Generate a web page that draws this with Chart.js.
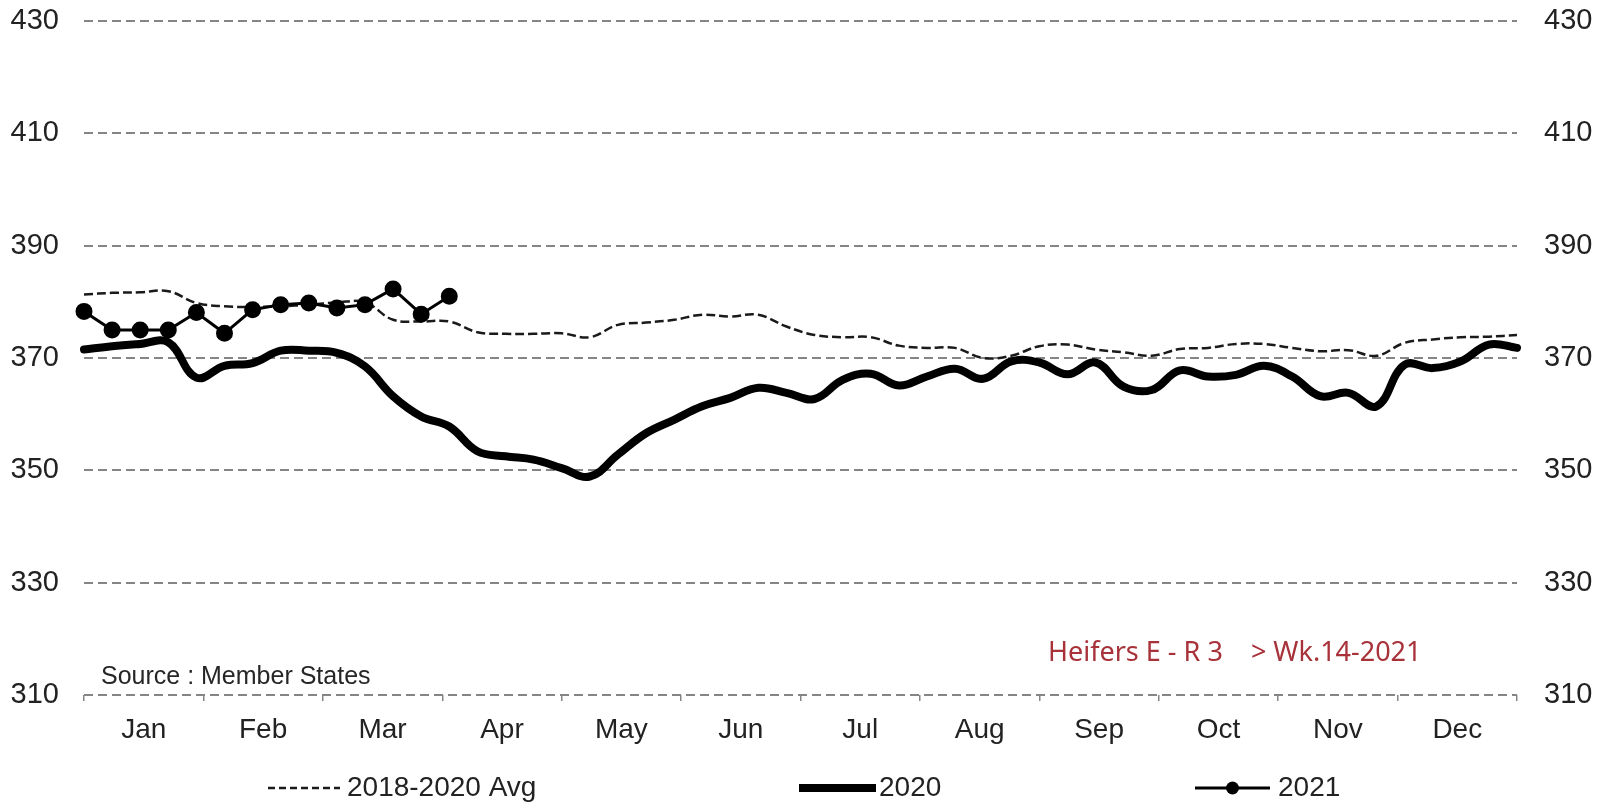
<!DOCTYPE html>
<html>
<head>
<meta charset="utf-8">
<script src="https://cdn.jsdelivr.net/npm/chart.js@4.4.1/dist/chart.umd.min.js"></script>
<style>
  html, body { margin: 0; padding: 0; background: #ffffff; }
  #wrap { width: 1606px; height: 807px; position: relative; }
</style>
</head>
<body>
<div id="wrap"><canvas id="c"></canvas></div>
<script>
// ---- data ----
const weeks = ['W1','W2','W3','W4','W5','W6','W7','W8','W9','W10','W11','W12','W13','W14','W15','W16','W17','W18','W19','W20','W21','W22','W23','W24','W25','W26','W27','W28','W29','W30','W31','W32','W33','W34','W35','W36','W37','W38','W39','W40','W41','W42','W43','W44','W45','W46','W47','W48','W49','W50','W51','W52'];
const months = ['Jan','Feb','Mar','Apr','May','Jun','Jul','Aug','Sep','Oct','Nov','Dec'];
const yTicks = [310, 330, 350, 370, 390, 410, 430];

const avg2018_2020 = [381.3, 381.6, 381.7, 381.9, 379.8, 379.2, 379.1, 379.2, 379.5, 379.9, 379.9, 376.8, 376.5, 376.5,
  374.6, 374.3, 374.3, 374.4, 373.7, 375.9, 376.3, 376.8, 377.7, 377.4, 377.7, 375.6, 374.1, 373.7, 373.7, 372.2,
  371.8, 371.8, 370.0, 370.4, 372.1, 372.4, 371.5, 371.0, 370.4, 371.6, 371.8, 372.5, 372.5, 371.8, 371.2, 371.4,
  370.4, 372.7, 373.3, 373.7, 373.8, 374.1];
const y2020 = [371.5, 372.1, 372.5, 372.8, 366.5, 368.6, 369.1, 371.3, 371.3, 370.9, 368.5, 363.2, 359.6, 357.8,
  353.4, 352.5, 351.9, 350.4, 348.9, 352.8, 356.6, 359.0, 361.4, 362.9, 364.7, 363.8, 362.7, 366.1, 367.2, 365.1,
  366.7, 368.1, 366.3, 369.4, 369.2, 367.1, 369.2, 364.9, 364.3, 367.8, 366.7, 367.0, 368.6, 366.7, 363.2, 363.8,
  361.4, 368.8, 368.2, 369.4, 372.4, 371.8];
const y2021 = [378.3, 375.0, 375.0, 375.0, 378.1, 374.4, 378.6, 379.5, 379.8, 378.9, 379.5, 382.3, 377.8, 381.0];

const seriesNames = ['2021', '2020', '2018-2020 Avg'];
const sourceText = 'Source : Member States';
const noteText = 'Heifers E - R 3    > Wk.14-2021';

// ---- styles ----
const FONT = '"Liberation Sans", Arial, sans-serif';
const GRID = '#858585';

const textPlugin = {
  id: 'texts',
  afterDraw(chart) {
    const ctx = chart.ctx;
    ctx.save();
    ctx.fillStyle = '#262626';
    ctx.font = '25px ' + FONT;
    ctx.textBaseline = 'middle';
    ctx.textAlign = 'left';
    ctx.fillText(sourceText, 101, 677, 273);
    ctx.fillStyle = '#A8323A';
    ctx.font = '27px "Noto Sans", "Open Sans", sans-serif';
    ctx.fillText(noteText, 1048, 653, 375);

    // legend
    const ds = chart.data.datasets;
    const ly = 788;
    const items = [
      {d: ds[2], x0: 268, x1: 340, tx: 347},
      {d: ds[1], x0: 799, x1: 876, tx: 879},
      {d: ds[0], x0: 1195, x1: 1270, tx: 1278}
    ];
    ctx.font = '28px ' + FONT;
    items.forEach(it => {
      ctx.save();
      ctx.strokeStyle = it.d.borderColor;
      ctx.lineWidth = it.d.borderWidth;
      ctx.setLineDash(it.d.borderDash ? [7, 4] : []);
      ctx.beginPath();
      ctx.moveTo(it.x0, ly);
      ctx.lineTo(it.x1, ly);
      ctx.stroke();
      ctx.setLineDash([]);
      if (it.d.pointRadius > 0) {
        ctx.fillStyle = it.d.pointBackgroundColor;
        ctx.beginPath();
        ctx.arc((it.x0 + it.x1) / 2, ly, 6.5, 0, Math.PI * 2);
        ctx.fill();
      }
      ctx.fillStyle = '#222';
      ctx.textAlign = 'left';
      ctx.textBaseline = 'middle';
      ctx.fillText(it.d.label, it.tx, ly);
      ctx.restore();
    });
    ctx.restore();
  }
};

function fitY(w) {
  return function (scale) {
    scale.width = w;
    scale.paddingTop = 0;
    scale.paddingBottom = 0;
  };
}

const yCommon = {
  min: 310, max: 430,
  afterBuildTicks(scale) { scale.ticks = yTicks.map(v => ({value: v})); },
  border: { display: false, dash: [9, 5] },
  ticks: { font: { family: FONT, size: 29 }, color: '#222', padding: 25 }
};

new Chart(document.getElementById('c'), {
  type: 'line',
  data: {
    labels: weeks,
    datasets: [
      {
        label: seriesNames[0], data: y2021, borderColor: '#000', borderWidth: 3,
        pointRadius: 7, pointHoverRadius: 7, pointBackgroundColor: '#000', pointBorderColor: '#000',
        tension: 0, yAxisID: 'y', xAxisID: 'x'
      },
      {
        label: seriesNames[1], data: y2020, borderColor: '#000', borderWidth: 8,
        pointRadius: 0, tension: 0.4, borderCapStyle: 'round', borderJoinStyle: 'round',
        yAxisID: 'y', xAxisID: 'x'
      },
      {
        label: seriesNames[2], data: avg2018_2020, borderColor: '#1a1a1a', borderWidth: 2.5,
        borderDash: [9, 4], pointRadius: 0, tension: 0.4, yAxisID: 'y', xAxisID: 'x'
      }
    ]
  },
  options: {
    responsive: true,
    maintainAspectRatio: false,
    devicePixelRatio: 1,
    animation: false,
    layout: { padding: { top: 21, left: 0, right: 0, bottom: 0 } },
    plugins: { legend: { display: false }, tooltip: { enabled: false } },
    scales: {
      x: {
        type: 'category', display: false, offset: false
      },
      months: {
        type: 'category', labels: months, position: 'bottom', offset: true,
        afterFit(scale) { scale.height = 112; },
        grid: { display: true, offset: true, drawOnChartArea: false, drawTicks: true, tickLength: 6, color: GRID, lineWidth: 1.5 },
        border: { display: false },
        ticks: { font: { family: FONT, size: 28 }, color: '#222', padding: 12, maxRotation: 0, autoSkip: false }
      },
      y: Object.assign({}, yCommon, {
        position: 'left',
        afterFit: fitY(84),
        grid: { color: GRID, lineWidth: 2, drawTicks: false }
      }),
      y2: Object.assign({}, yCommon, {
        position: 'right',
        afterFit: fitY(89),
        grid: { drawOnChartArea: false, drawTicks: false },
        ticks: { font: { family: FONT, size: 29 }, color: '#222', padding: 27 }
      })
    }
  },
  plugins: [textPlugin]
});
</script>
</body>
</html>
